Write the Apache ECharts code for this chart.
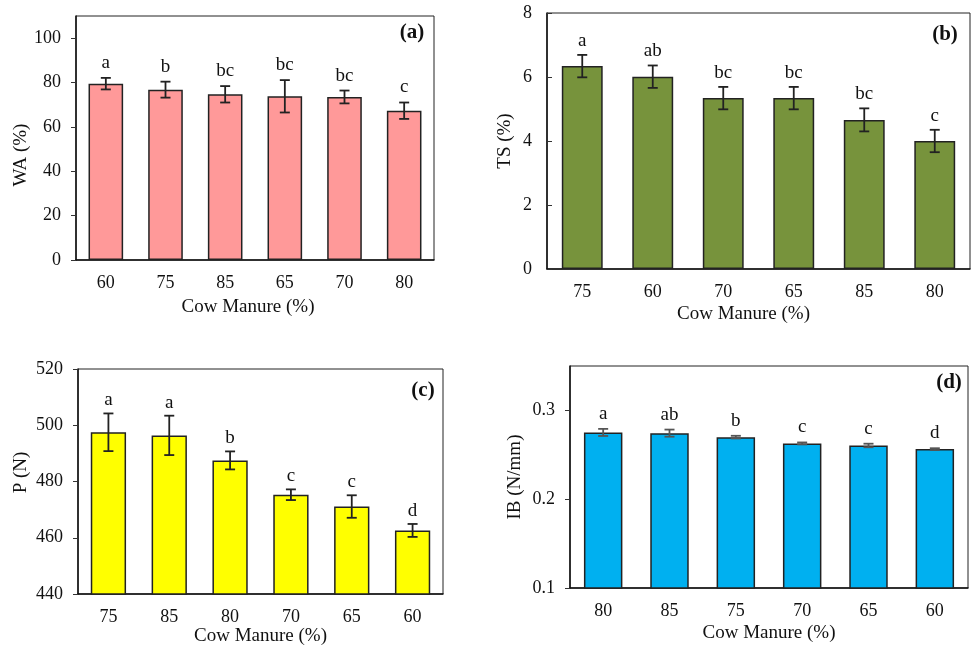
<!DOCTYPE html>
<html><head><meta charset="utf-8">
<script src="https://cdn.jsdelivr.net/npm/echarts@6/dist/echarts.min.js"></script>
<style>html,body{margin:0;padding:0;background:#fff}#c{width:973px;height:647px}</style>
</head><body><div id="c"></div>
<script>
// Panel (a) Water absorption
const catsA = ['60','75','85','65','70','80'];
const waVals = [79.5, 76.8, 74.7, 73.8, 73.5, 67.3];
const waErr = [2.6, 3.6, 3.7, 7.3, 2.9, 3.7];
const waLetters = ['a','b','bc','bc','bc','c'];
const waTicks = [0, 20, 40, 60, 80, 100];
// Panel (b) Thickness swelling
const catsB = ['75','60','70','65','85','80'];
const tsVals = [6.34, 6.01, 5.34, 5.34, 4.66, 4.00];
const tsErr = [0.35, 0.35, 0.35, 0.35, 0.36, 0.35];
const tsLetters = ['a','ab','bc','bc','bc','c'];
const tsTicks = [0, 2, 4, 6, 8];
// Panel (c) P
const catsC = ['75','85','80','70','65','60'];
const pVals = [497.5, 496.4, 487.5, 475.3, 471.1, 462.6];
const pErr = [6.7, 7.0, 3.2, 1.9, 4.0, 2.3];
const pLetters = ['a','a','b','c','c','d'];
const pTicks = [440, 460, 480, 500, 520];
// Panel (d) Internal bond
const catsD = ['80','85','75','70','65','60'];
const ibVals = [0.2752, 0.2744, 0.2699, 0.2628, 0.2605, 0.2564];
const ibErr = [0.004, 0.004, 0.0015, 0.0011, 0.002, 0.001];
const ibLetters = ['a','ab','b','c','c','d'];
const ibTicks = [0.1, 0.2, 0.3];

const FONT = '"Liberation Serif","Times New Roman",serif';
const chart = echarts.init(document.getElementById('c'), null, {renderer:'canvas'});

const panels = [
  {cats:catsA, vals:waVals, err:waErr, letters:waLetters, ticks:waTicks, min:0, max:110, name:'WA (%)',
   grid:{left:76, top:16, width:358, height:244}, color:'#ff9999', errColor:'#222', lblOff:15, xGap:38, xPad:[0,14,0,0], yGap:43, yPad:[0,34,0,0], tickInside:false, tag:'(a)', tagPos:[412,33]},
  {cats:catsB, vals:tsVals, err:tsErr, letters:tsLetters, ticks:tsTicks, min:0, max:8, name:'TS (%)',
   grid:{left:547, top:13, width:423, height:256}, color:'#77933c', errColor:'#222', lblOff:14, xGap:36, xPad:[0,30,0,0], yGap:32, yPad:0, tickInside:true, tag:'(b)', tagPos:[945,35]},
  {cats:catsC, vals:pVals, err:pErr, letters:pLetters, ticks:pTicks, min:440, max:520, name:'P (N)',
   grid:{left:78, top:369, width:365, height:225}, color:'#ffff00', errColor:'#222', lblOff:13, xGap:30, xPad:0, yGap:47, yPad:[0,0,0,18], tickInside:false, tag:'(c)', tagPos:[423,391]},
  {cats:catsD, vals:ibVals, err:ibErr, letters:ibLetters, ticks:ibTicks, min:0.1, max:0.35, name:'IB (N/mm)',
   grid:{left:570, top:366, width:398, height:222}, color:'#00b0f0', errColor:'#555', lblOff:15, xGap:36, xPad:0, yGap:45, yPad:0, tickInside:false, tag:'(d)', tagPos:[949,383]}
];

const option = {
  animation:false,
  backgroundColor:'#fff',
  grid:[], xAxis:[], yAxis:[], series:[], graphic:[]
};

panels.forEach((p, k) => {
  option.grid.push(Object.assign({show:true, borderColor:'#222', borderWidth:1, backgroundColor:'transparent'}, p.grid));
  option.xAxis.push({
    type:'category', gridIndex:k, data:p.cats,
    axisLine:{lineStyle:{color:'#111', width:1.5}},
    axisTick:{show:false},
    axisLabel:{color:'#111', fontFamily:FONT, fontSize:18, margin:14},
    name:'Cow Manure (%)', nameLocation:'middle', nameGap:p.xGap,
    nameTextStyle:{color:'#111', fontFamily:FONT, fontSize:19, padding:p.xPad}
  });
  option.yAxis.push({
    type:'value', gridIndex:k, min:p.min, max:p.max,
    axisLine:{show:true, lineStyle:{color:'#111', width:1.5}},
    axisTick:{show:true, inside:p.tickInside, length:5, customValues:p.ticks, lineStyle:{color:'#333'}},
    axisLabel:{color:'#111', fontFamily:FONT, fontSize:18, margin:15, customValues:p.ticks},
    splitLine:{show:false},
    name:p.name, nameLocation:'middle', nameGap:p.yGap,
    nameTextStyle:{color:'#111', fontFamily:FONT, fontSize:19, padding:p.yPad}
  });
  option.series.push({
    type:'bar', xAxisIndex:k, yAxisIndex:k, data:p.vals, barWidth:'58%',
    itemStyle:{color:p.color, borderColor:'#222', borderWidth:1.5}, z:2
  });
  const errData = p.vals.map((v,i) => [i, v, p.err[i]]);
  option.series.push({
    type:'custom', xAxisIndex:k, yAxisIndex:k, data:errData, z:5,
    encode:{x:0, y:1},
    renderItem:(params, api) => {
      const i = api.value(0), v = api.value(1), e = api.value(2);
      const top = api.coord([i, v + e]);
      const bot = api.coord([i, v - e]);
      const hw = 5;
      const st = {stroke:p.errColor, lineWidth:1.8};
      return {type:'group', children:[
        {type:'line', shape:{x1:top[0], y1:top[1], x2:bot[0], y2:bot[1]}, style:st},
        {type:'line', shape:{x1:top[0]-hw, y1:top[1], x2:top[0]+hw, y2:top[1]}, style:st},
        {type:'line', shape:{x1:bot[0]-hw, y1:bot[1], x2:bot[0]+hw, y2:bot[1]}, style:st},
        {type:'text', x:top[0], y:top[1]-p.lblOff, style:{text:p.letters[params.dataIndex], fill:'#111',
          font:'19px ' + FONT, align:'center', verticalAlign:'middle'}}
      ]};
    }
  });
  option.graphic.push({type:'text', x:p.tagPos[0], y:p.tagPos[1], style:{text:p.tag, fill:'#111',
    font:'bold 21px ' + FONT, align:'center', verticalAlign:'middle'}, z:10});
});

chart.setOption(option);
</script>
</body></html>
